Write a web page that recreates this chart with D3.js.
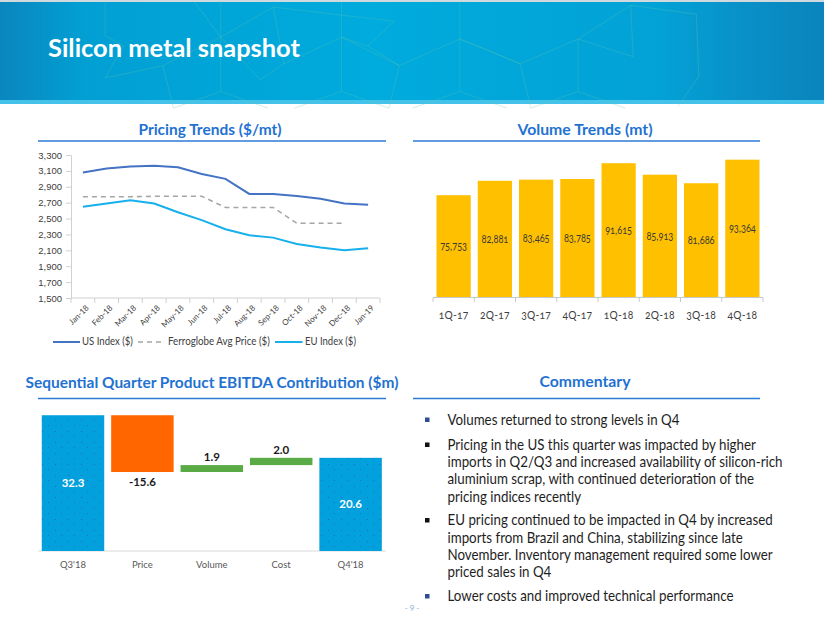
<!DOCTYPE html>
<html>
<head>
<meta charset="utf-8">
<script src="https://cdn.jsdelivr.net/npm/d3@7/dist/d3.min.js"></script>
<style>
  html, body { margin: 0; padding: 0; background: #fff; }
  svg { display: block; font-family: Lato, "Open Sans", sans-serif; }
  .onum { font-variant-numeric: oldstyle-nums; font-feature-settings: "onum" 1; }
</style>
</head>
<body>
<svg id="chart" width="824" height="637"></svg>
<script>
// ---------------- DATA ----------------
const months = ["Jan-18","Feb-18","Mar-18","Apr-18","May-18","Jun-18","Jul-18","Aug-18","Sep-18","Oct-18","Nov-18","Dec-18","Jan-19"];
const usIndex   = [3080, 3130, 3155, 3165, 3145, 3060, 3000, 2810, 2810, 2785, 2750, 2690, 2675];
const ferroAvg  = [2775, 2775, 2775, 2780, 2780, 2780, 2640, 2640, 2640, 2440, 2440, 2440, null];
const euIndex   = [2650, 2690, 2730, 2690, 2580, 2480, 2365, 2290, 2260, 2180, 2135, 2100, 2125];
const priceTicks = [1500, 1700, 1900, 2100, 2300, 2500, 2700, 2900, 3100, 3300];
const priceSeriesNames = ["US Index ($)", "Ferroglobe Avg Price ($)", "EU Index ($)"];

const quarters = ["1Q-17","2Q-17","3Q-17","4Q-17","1Q-18","2Q-18","3Q-18","4Q-18"];
const volumes  = [75753, 82881, 83465, 83785, 91615, 85913, 81686, 93364];

const wfCategories = ["Q3'18", "Price", "Volume", "Cost", "Q4'18"];
const wfValues     = [32.3, -15.6, 1.9, 2.0, 20.6];
const wfIsTotal    = [true, false, false, false, true];

const commentary = [
  ["Volumes returned to strong levels in Q4"],
  ["Pricing in the US this quarter was impacted by higher",
   "imports in Q2/Q3 and increased availability of silicon-rich",
   "aluminium scrap, with continued deterioration of the",
   "pricing indices recently"],
  ["EU pricing continued to be impacted in Q4 by increased",
   "imports from Brazil and China, stabilizing since late",
   "November. Inventory management required some lower",
   "priced sales in Q4"],
  ["Lower costs and improved technical performance"]
];

// ---------------- HELPERS ----------------
const svg = d3.select("#chart");
const BLUE_TITLE = "#1f72d1";
const fmt1 = v => (v < 0 ? "-" : "") + Math.abs(v).toFixed(1);

// horizontal fit: keep font-size (glyph height), squeeze/stretch width around the text x
function fitX(sel, target) {
  const w = sel.node().getComputedTextLength();
  if (!(w > 0)) return sel;
  const s = target / w;
  const ax = +sel.attr("x");
  sel.attr("transform", `translate(${ax * (1 - s)},0) scale(${s},1)`);
  return sel;
}
function fitSize(sel, target) {
  const w = sel.node().getComputedTextLength();
  const fs = parseFloat(sel.attr("font-size"));
  if (w > 0) sel.attr("font-size", (fs * target / w).toFixed(2));
  return sel;
}

// ---------------- HEADER ----------------
const defs = svg.append("defs");
const hg = defs.append("linearGradient").attr("id", "hdr").attr("x1", 0).attr("x2", 1).attr("y1", 0).attr("y2", 0);
[[0, "#0a86be"], [0.1, "#029fd3"], [0.45, "#00abdd"], [0.8, "#03a2d6"], [0.9, "#0891c8"], [1, "#0a84bc"]]
  .forEach(([o, c]) => hg.append("stop").attr("offset", o).attr("stop-color", c));

const dots = defs.append("pattern").attr("id", "dots").attr("width", 13).attr("height", 11)
  .attr("patternUnits", "userSpaceOnUse");
dots.append("rect").attr("width", 13).attr("height", 11).attr("fill", "#02a0dc");
dots.append("rect").attr("x", 3).attr("y", 2).attr("width", 1).attr("height", 1).attr("fill", "#3a4a9a").attr("opacity", 0.6);
dots.append("rect").attr("x", 9).attr("y", 7).attr("width", 1).attr("height", 1).attr("fill", "#3a4a9a").attr("opacity", 0.5);

svg.append("rect").attr("x", 0).attr("y", 0).attr("width", 824).attr("height", 103).attr("fill", "url(#hdr)");
svg.append("rect").attr("x", 0).attr("y", 0).attr("width", 824).attr("height", 2).attr("fill", "#cfd9de");
svg.append("rect").attr("x", 0).attr("y", 100).attr("width", 824).attr("height", 4).attr("fill", "#45c2ea");

// decorative network lines (background art of the banner)
const netZ = [
  [[200,5],[200,100],[235,130],[200,220],[310,185],[420,105],[420,5]],
  [[370,5],[420,105],[520,20],[540,180],[495,225],[420,105]],
  [[540,180],[650,105],[650,5]], [[650,105],[700,130],[750,60],[520,20]],
  [[700,130],[760,185],[650,105]], [[760,185],[875,110],[875,5]],
  [[875,110],[910,130],[990,180],[875,110]], [[990,180],[1100,110],[1200,15]],
  [[1100,110],[1205,160],[1200,15],[1325,40],[1330,215],[1290,300]],
  [[330,305],[420,258],[510,305]], [[560,305],[650,258],[740,305]],
  [[785,305],[875,258],[965,305]], [[1010,305],[1100,258],[1190,305]],
  [[420,258],[420,105]], [[650,258],[650,105]], [[875,258],[875,110]], [[1100,258],[1100,110]],
  [[310,185],[330,305]], [[990,180],[1010,305]], [[760,185],[740,305]]
];
const net = netZ.map(pl => pl.map(([x, y]) => [x / 1.903, y / 2.82]));
svg.append("g").selectAll("path").data(net).join("path")
  .attr("d", d => d3.line()(d)).attr("fill", "none")
  .attr("stroke", "#5cc8b0").attr("stroke-opacity", 0.3).attr("stroke-width", 1);

fitSize(svg.append("text").attr("x", 48).attr("y", 57).attr("font-size", 22).attr("font-weight", 700)
  .attr("fill", "#fff").text("Silicon metal snapshot"), 252);

// ---------------- SECTION TITLES ----------------
function sectionTitle(text, cx, y, width, x1, x2, ly) {
  fitX(svg.append("text").attr("x", cx).attr("y", y).attr("text-anchor", "middle")
    .attr("font-size", 15.4).attr("font-weight", 700).attr("fill", BLUE_TITLE).text(text), width);
  svg.append("line").attr("x1", x1).attr("x2", x2).attr("y1", ly).attr("y2", ly)
    .attr("stroke", "#2b7bd4").attr("stroke-width", 1.6);
}
sectionTitle("Pricing Trends ($/mt)", 210, 135, 143, 38, 386, 141);
sectionTitle("Volume Trends (mt)", 585, 135, 135, 413, 760, 141);
sectionTitle("Sequential Quarter Product EBITDA Contribution ($m)", 212, 388, 373, 38, 386, 398.5);
sectionTitle("Commentary", 585, 387, 91, 413, 760, 398.5);

// ---------------- PRICING TRENDS ----------------
const px = d3.scaleBand().domain(months).range([71, 380]);
const py = d3.scaleLinear().domain([1500, 3300]).range([298, 155]);
const pg = svg.append("g");

const yAx = pg.append("g").attr("transform", "translate(71,0)")
  .call(d3.axisLeft(py).tickValues(priceTicks).tickFormat(d3.format(",")).tickSize(5).tickPadding(4));
yAx.select(".domain").attr("stroke", "#d0d0d0");
yAx.selectAll(".tick line").attr("stroke", "#d0d0d0");
yAx.selectAll("text").attr("font-size", 9.5).attr("fill", "#404040").attr("font-family", null);

const xAx = pg.append("g").attr("transform", "translate(0,298)");
xAx.append("line").attr("x1", 71).attr("x2", 380).attr("stroke", "#d0d0d0");
xAx.selectAll("line.tk").data(d3.range(months.length + 1)).join("line").attr("class", "tk")
  .attr("x1", i => 71 + i * px.step()).attr("x2", i => 71 + i * px.step())
  .attr("y1", 0).attr("y2", 5).attr("stroke", "#d0d0d0");
xAx.selectAll("text").data(months).join("text")
  .attr("transform", d => `translate(${px(d) + px.bandwidth() / 2 + 3},7) rotate(-45)`)
  .attr("text-anchor", "end").attr("dy", "0.6em").attr("font-size", 8).attr("fill", "#404040").text(d => d);

const cx = (d, i) => px(months[i]) + px.bandwidth() / 2;
const mkLine = d3.line().defined(d => d != null).x(cx).y(d => py(d));
pg.append("path").datum(usIndex).attr("d", mkLine).attr("fill", "none").attr("stroke", "#4472c4").attr("stroke-width", 2);
pg.append("path").datum(ferroAvg).attr("d", mkLine).attr("fill", "none").attr("stroke", "#a6a6a6")
  .attr("stroke-width", 1.6).attr("stroke-dasharray", "5,4");
pg.append("path").datum(euIndex).attr("d", mkLine).attr("fill", "none").attr("stroke", "#17b0ec").attr("stroke-width", 2);

// legend
const legend = [
  {name: priceSeriesNames[0], x1: 53, x2: 80, tx: 82, color: "#4472c4", dash: null, w: 51},
  {name: priceSeriesNames[1], x1: 138, x2: 165, tx: 168, color: "#a6a6a6", dash: "5,4", w: 102},
  {name: priceSeriesNames[2], x1: 275, x2: 302.5, tx: 305, color: "#17b0ec", dash: null, w: 51}
];
legend.forEach(l => {
  svg.append("line").attr("x1", l.x1).attr("x2", l.x2).attr("y1", 342).attr("y2", 342)
    .attr("stroke", l.color).attr("stroke-width", l.dash ? 1.6 : 2).attr("stroke-dasharray", l.dash);
  fitX(svg.append("text").attr("x", l.tx).attr("y", 345.5).attr("font-size", 10.5).attr("fill", "#404040").text(l.name), l.w);
});

// ---------------- VOLUME TRENDS ----------------
const vx = d3.scaleBand().domain(quarters).range([433, 763]).paddingInner(0.17).paddingOuter(0.085);
const vy = d3.scaleLinear().domain([25000, 100000]).range([297.5, 146.3]);
const vg = svg.append("g");
vg.selectAll("rect").data(volumes).join("rect")
  .attr("x", (d, i) => vx(quarters[i])).attr("width", vx.bandwidth())
  .attr("y", d => vy(d)).attr("height", d => vy(25000) - vy(d)).attr("fill", "#ffc000");
const vLabels = vg.selectAll("text.val").data(volumes).join("text").attr("class", "val onum")
  .attr("x", (d, i) => vx(quarters[i]) + vx.bandwidth() / 2)
  .attr("y", d => (vy(d) + vy(25000)) / 2 + 3.5)
  .attr("text-anchor", "middle").attr("font-size", 11).attr("fill", "#3a3a3a").text(d3.format(","));
vLabels.each(function () { fitX(d3.select(this), 27); });
vg.append("line").attr("x1", 433).attr("x2", 763).attr("y1", 297.5).attr("y2", 297.5).attr("stroke", "#c8c8c8");
vg.selectAll("line.tk").data(d3.range(quarters.length + 1)).join("line").attr("class", "tk")
  .attr("x1", i => 433 + i * vx.step()).attr("x2", i => 433 + i * vx.step())
  .attr("y1", 297.5).attr("y2", 302).attr("stroke", "#c8c8c8");
vg.selectAll("text.cat").data(quarters).join("text").attr("class", "cat onum")
  .attr("x", d => vx(d) + vx.bandwidth() / 2).attr("y", 319)
  .attr("text-anchor", "middle").attr("font-size", 12).attr("letter-spacing", 0.3)
  .attr("fill", "#404040").text(d => d)
  .each(function () { fitX(d3.select(this), 30); });

// ---------------- WATERFALL ----------------
const wx = d3.scaleBand().domain(wfCategories).range([38.3, 385.3]).paddingInner(0.1).paddingOuter(0.05);
const wy = d3.scaleLinear().domain([-5, 35]).range([551, 405.4]);
let run = 0;
const wf = wfValues.map((v, i) => {
  let lo, hi;
  if (wfIsTotal[i]) { lo = -5; hi = v; run = v; }
  else { const s = run; run = s + v; lo = Math.min(s, run); hi = Math.max(s, run); }
  return {cat: wfCategories[i], v, lo, hi, total: wfIsTotal[i]};
});
const wg = svg.append("g");
wg.append("line").attr("x1", 38).attr("x2", 386).attr("y1", 551).attr("y2", 551).attr("stroke", "#d9d9d9");
wg.selectAll("rect").data(wf).join("rect")
  .attr("x", d => wx(d.cat)).attr("width", wx.bandwidth())
  .attr("y", d => wy(d.hi)).attr("height", d => wy(d.lo) - wy(d.hi))
  .attr("fill", d => d.total ? "url(#dots)" : (d.v < 0 ? "#ff6600" : "#5aab45"));
wg.selectAll("text.val").data(wf).join("text").attr("class", "val")
  .attr("x", d => wx(d.cat) + wx.bandwidth() / 2)
  .attr("y", d => d.total ? (wy(d.hi) + wy(d.lo)) / 2 + 4 : (d.v < 0 ? wy(d.lo) + 14 : wy(d.hi) - 4))
  .attr("text-anchor", "middle").attr("font-size", 11.5).attr("font-weight", 700)
  .attr("fill", d => d.total ? "#fff" : "#1a1a1a").text(d => fmt1(d.v));
wg.selectAll("text.cat").data(wfCategories).join("text").attr("class", "cat")
  .attr("x", d => wx(d) + wx.bandwidth() / 2).attr("y", 567.5)
  .attr("text-anchor", "middle").attr("font-size", 9.5).attr("fill", "#595959").text(d => d);

// ---------------- COMMENTARY ----------------
const cg = svg.append("g");
const CFS = 14.8;
const probe = cg.append("text").attr("font-size", CFS).text(commentary[1][1]);
const cScale = 335 / probe.node().getComputedTextLength();
probe.remove();
const paraY = [425, 450, 525.5, 601.5];
const bulletColors = ["#2e4f8f", "#111", "#111", "#2e4f8f"];
const tg = cg.append("g").attr("transform", `translate(${447.5 * (1 - cScale)},0) scale(${cScale},1)`);
commentary.forEach((lines, p) => {
  cg.append("rect").attr("x", 425).attr("y", paraY[p] - 7.5).attr("width", 4.5).attr("height", 4.5)
    .attr("fill", bulletColors[p]);
  lines.forEach((t, j) => {
    tg.append("text").attr("x", 447.5).attr("y", paraY[p] + j * 17.2)
      .attr("font-size", CFS).attr("fill", "#1e1e1e").text(t);
  });
});

// page number
svg.append("text").attr("x", 412).attr("y", 611).attr("text-anchor", "middle")
  .attr("font-size", 8).attr("fill", "#7fb2e0").text("- 9 -");
</script>
</body>
</html>
